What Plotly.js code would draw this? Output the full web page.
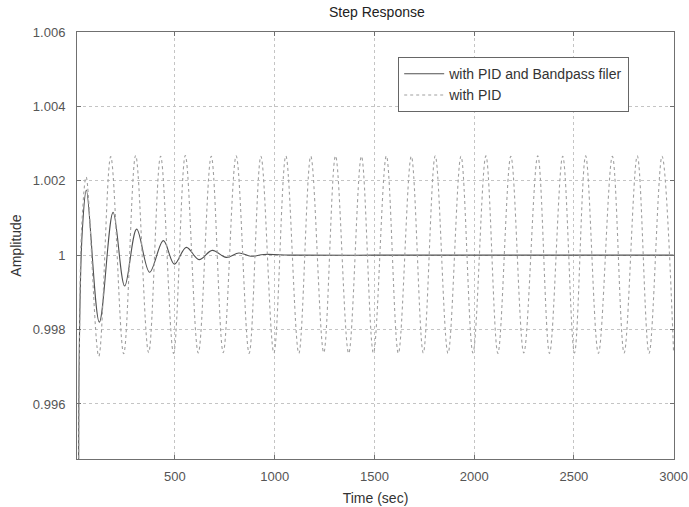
<!DOCTYPE html>
<html>
<head>
<meta charset="utf-8">
<script src="https://cdn.plot.ly/plotly-3.0.1.min.js"></script>
<style>html,body{margin:0;padding:0;background:#fff;}#chart{width:689px;height:507px;}</style>
</head>
<body>
<div id="chart"></div>
<script>
// Time samples (sec) and amplitudes
const bpTime = [0, 20, 35, 56, 121, 190, 248, 308, 373, 442, 497, 557, 621, 687, 757, 821, 881, 946, 1100, 1500, 2000, 2500, 3000];
const bpAmp  = [0, 0.9972, 1.0006, 1.00175, 0.9982, 1.00115, 0.99917, 1.0007, 0.99954, 1.00039, 0.99976, 1.00021, 0.99988, 1.00013, 0.99994, 1.00006, 0.99997, 1.00002, 1.0, 1.0, 1.0, 1.0, 1.0];

const pidTime = [0, 20, 35, 55, 118, 178, 243, 303, 368, 428, 493, 552, 617, 682, 742, 807, 872, 931, 996, 1056, 1121, 1181, 1246, 1305, 1371, 1435, 1495, 1560, 1620, 1685, 1745, 1805, 1869, 1934, 1994, 2059, 2119, 2184, 2249, 2319, 2378, 2444, 2503, 2559, 2623, 2693, 2752, 2818, 2877, 2942, 3000];
const pidAmp  = [0, 0.9968, 1.0010, 1.0021,
  0.99728, 1.00265, 0.99735, 1.00268, 0.99738, 1.00266, 0.99736, 1.00268, 0.99737, 1.00266,
  0.99738, 1.00267, 0.99736, 1.00266, 0.99737, 1.00267, 0.99736, 1.00266, 0.99738, 1.00267,
  0.99736, 1.00266, 0.99737, 1.00267, 0.99736, 1.00266, 0.99737, 1.00267, 0.99736, 1.00266,
  0.99737, 1.00267, 0.99736, 1.00266, 0.99737, 1.00267, 0.99736, 1.00266, 0.99737, 1.00267,
  0.99736, 1.00266, 0.99737, 1.00267, 0.99736, 1.00266, 0.99737];

const seriesNames = ["with PID and Bandpass filer", "with PID"];
const xTickVals = [500, 1000, 1500, 2000, 2500, 3000];
const xTickText = ["500", "1000", "1500", "2000", "2500", "3000"];
const yTickVals = [0.996, 0.998, 1, 1.002, 1.004, 1.006];
const yTickText = ["0.996", "0.998", "1", "1.002", "1.004", "1.006"];

const FONT = "Liberation Sans, Arial, Helvetica, sans-serif";

const traces = [
  {x: bpTime, y: bpAmp, name: seriesNames[0], type: "scatter", mode: "lines",
   line: {color: "#505050", width: 1.1, shape: "spline", smoothing: 1}},
  {x: pidTime, y: pidAmp, name: seriesNames[1], type: "scatter", mode: "lines",
   line: {color: "#a0a0a0", width: 1.1, dash: "dot", shape: "spline", smoothing: 1}}
];

const axisCommon = {
  showline: true, linecolor: "#707070", linewidth: 1, mirror: "ticks",
  ticks: "inside", ticklen: 4, tickcolor: "#707070",
  showgrid: true, gridcolor: "#c4c4c4", griddash: "dot", gridwidth: 1,
  zeroline: false, ticklabeloverflow: "allow",
  tickfont: {family: FONT, size: 13, color: "#555"}
};

const layout = {
  width: 689, height: 507,
  paper_bgcolor: "#fff", plot_bgcolor: "#fff",
  margin: {l: 77, r: 15, t: 32, b: 48},
  title: {text: "Step Response", font: {family: FONT, size: 14, color: "#222"},
          x: 0.547, xanchor: "center", y: 0.976, yanchor: "middle"},
  xaxis: Object.assign({}, axisCommon, {
    range: [9, 3002], tickvals: xTickVals, ticktext: xTickText, ticklabelstandoff: 5,
    title: {text: "Time (sec)", font: {family: FONT, size: 14, color: "#333"}, standoff: 10}
  }),
  yaxis: Object.assign({}, axisCommon, {
    range: [0.99452, 1.006], tickvals: yTickVals, ticktext: yTickText, ticklabelstandoff: 8,
    title: {text: "Amplitude", font: {family: FONT, size: 14, color: "#333"}, standoff: 7}
  }),
  showlegend: true,
  legend: {x: 0.538, y: 0.941, xanchor: "left", yanchor: "top", itemwidth: 40,
           bgcolor: "#fff", bordercolor: "#666", borderwidth: 1,
           font: {family: FONT, size: 14, color: "#333"}, tracegroupgap: 0}
};

Plotly.newPlot("chart", traces, layout, {displayModeBar: false, staticPlot: true});
</script>
</body>
</html>
